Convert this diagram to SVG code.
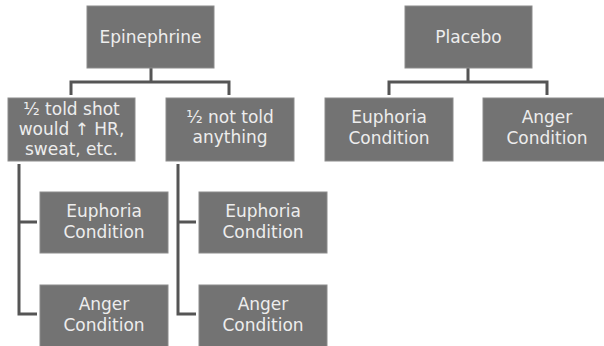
<svg xmlns="http://www.w3.org/2000/svg" width="604" height="346" viewBox="0 0 604 346">
  <style>
    .box { fill: #737373; stroke: #8c8c8c; stroke-width: 1; }
    .lbl { fill: #ededed; font-family: "DejaVu Sans", sans-serif; font-size: 17px; text-anchor: middle; }
    .wire { fill: none; stroke: #555555; stroke-width: 3; }
  </style>
  <rect width="604" height="346" fill="#ffffff"/>

  <g id="connectors">
    <path class="wire" d="M151 68 V82 M71 95 V82 H229 V95"/>
    <path class="wire" d="M468 68 V82 M389 95 V82 H547 V95"/>
    <path class="wire" d="M19 164 V314 H37 M19 222 H37"/>
    <path class="wire" d="M178 164 V314 H196 M178 222 H196"/>
  </g>

  <g id="epinephrine">
    <rect class="box" x="87" y="6" width="127" height="62"/>
    <text class="lbl" x="150.5" y="43">Epinephrine</text>
  </g>
  <g id="told">
    <rect class="box" x="8" y="98" width="127" height="63"/>
    <text class="lbl" x="71.5" y="115">½ told shot</text>
    <text class="lbl" x="71.5" y="135">would ↑ HR,</text>
    <text class="lbl" x="71.5" y="155">sweat, etc.</text>
  </g>
  <g id="not-told">
    <rect class="box" x="166" y="98" width="128" height="63"/>
    <text class="lbl" x="230" y="123">½ not told</text>
    <text class="lbl" x="230" y="143">anything</text>
  </g>
  <g id="told-euphoria">
    <rect class="box" x="40" y="192" width="128" height="61"/>
    <text class="lbl" x="104" y="217">Euphoria</text>
    <text class="lbl" x="104" y="238">Condition</text>
  </g>
  <g id="told-anger">
    <rect class="box" x="40" y="285" width="128" height="62"/>
    <text class="lbl" x="104" y="310">Anger</text>
    <text class="lbl" x="104" y="331">Condition</text>
  </g>
  <g id="not-told-euphoria">
    <rect class="box" x="199" y="192" width="128" height="61"/>
    <text class="lbl" x="263" y="217">Euphoria</text>
    <text class="lbl" x="263" y="238">Condition</text>
  </g>
  <g id="not-told-anger">
    <rect class="box" x="199" y="285" width="128" height="62"/>
    <text class="lbl" x="263" y="310">Anger</text>
    <text class="lbl" x="263" y="331">Condition</text>
  </g>
  <g id="placebo">
    <rect class="box" x="405" y="6" width="127" height="62"/>
    <text class="lbl" x="468.5" y="43">Placebo</text>
  </g>
  <g id="placebo-euphoria">
    <rect class="box" x="325" y="98" width="128" height="63"/>
    <text class="lbl" x="389" y="123">Euphoria</text>
    <text class="lbl" x="389" y="144">Condition</text>
  </g>
  <g id="placebo-anger">
    <rect class="box" x="483" y="98" width="128" height="63"/>
    <text class="lbl" x="547" y="123">Anger</text>
    <text class="lbl" x="547" y="144">Condition</text>
  </g>
</svg>
